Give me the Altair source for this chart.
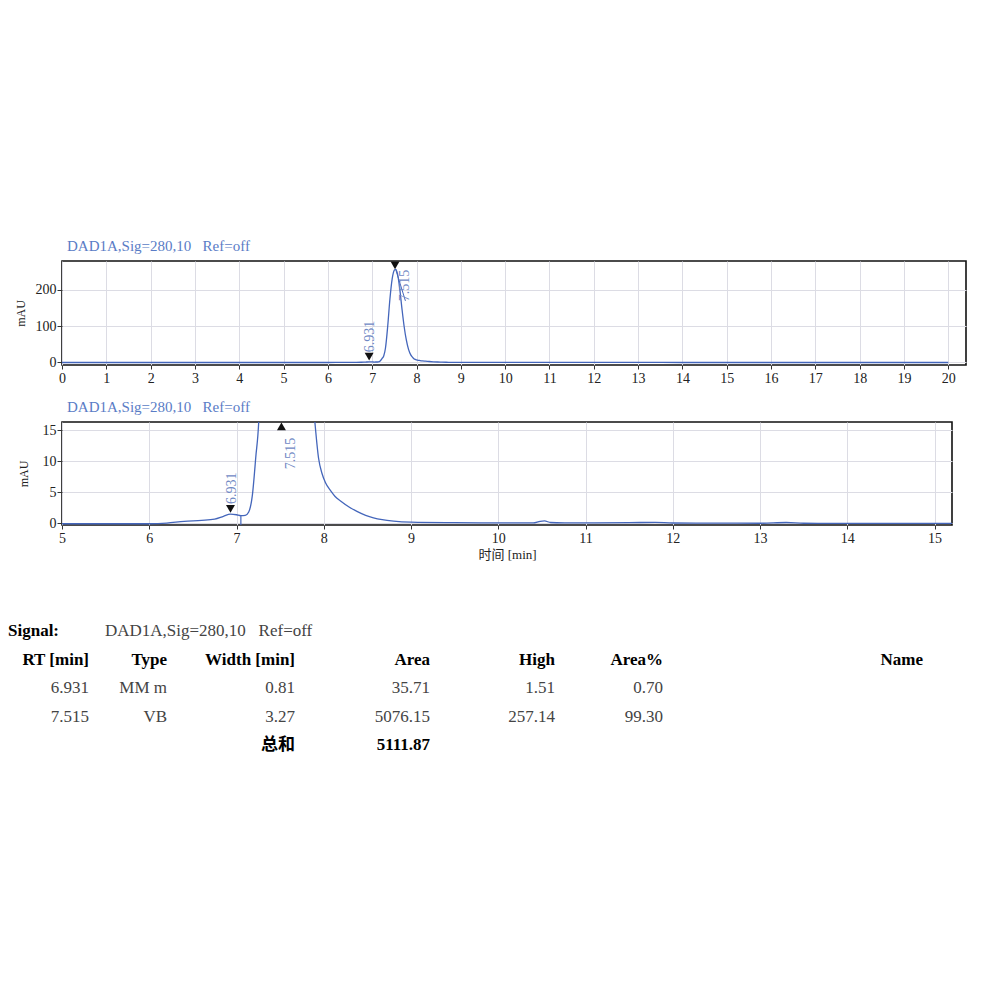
import altair as alt
import pandas as pd

# ---------------- data ----------------
time_min = [0.0, 1.0, 2.0, 3.0, 4.0, 5.0, 6.0, 6.2, 6.4, 6.6, 6.75, 6.85, 6.93,
            7.0, 7.05, 7.1, 7.14, 7.18, 7.22, 7.26, 7.30, 7.35, 7.40, 7.45, 7.50, 7.53,
            7.57, 7.62, 7.67, 7.72, 7.77, 7.82, 7.87, 7.90, 7.94, 7.98, 8.02, 8.08, 8.13,
            8.20, 8.29, 8.38, 8.48, 8.57, 8.67, 8.80, 9.0, 9.5, 10.0, 10.4, 10.48, 10.53, 10.6,
            10.8, 11.0, 11.5, 11.8, 12.0, 12.5, 13.0, 13.3, 13.5, 14.0,
            15.0, 16.0, 17.0, 18.0, 19.0, 20.0]
signal_mau = [-0.1, -0.1, -0.1, -0.1, -0.1, -0.1, -0.1, 0.0, 0.3, 0.45, 0.65, 1.1, 1.45,
              1.35, 1.2, 1.25, 1.8, 4.3, 10.5, 18, 40, 100, 175, 230, 255, 257.1,
              245, 205, 150, 100, 62, 36, 21, 16, 10.5, 8.0, 6.5, 5.2, 4.3,
              3.5, 2.6, 1.9, 1.26, 0.85, 0.55, 0.32, 0.16, 0.08, 0.05, 0.05, 0.3, 0.35, 0.1,
              0.05, 0.03, 0.08, 0.12, 0.02, 0.0, -0.02, 0.1, -0.02, -0.05,
              -0.05, -0.05, -0.05, -0.05, -0.05, -0.05]

peak_labels = ["6.931", "7.515"]

# top panel annotations (data coordinates)
top_marker_t = [6.931, 7.515]
top_marker_v = [16, 268]
top_marker_shape = ["triangle-down", "triangle-down"]
top_label_t = [6.94, 7.75]
top_label_v = [28, 169]
top_leader_t = [7.53]
top_leader_t2 = [7.75]
top_leader_v = [257]
top_leader_v2 = [170]

# bottom panel annotations
bot_marker_t = [6.931, 7.515]
bot_marker_v = [2.3, 15.6]
bot_marker_shape = ["triangle-down", "triangle-up"]
bot_label_t = [6.945, 7.62]
bot_label_v = [3.1, 8.7]
bot_drop_t = [7.05]
bot_drop_v = [-0.3]
bot_drop_v2 = [1.2]

signal_name = "DAD1A,Sig=280,10\u00a0\u00a0\u00a0Ref=off"

# table content
headers = ["RT [min]", "Type", "Width [min]", "Area", "High", "Area%", "Name"]
rt_vals = ["6.931", "7.515"]
type_vals = ["MM m", "VB"]
width_vals = ["0.81", "3.27"]
area_vals = ["35.71", "5076.15"]
high_vals = ["1.51", "257.14"]
pct_vals = ["0.70", "99.30"]
total_label = "总和"
total_area = "5111.87"

# ---------------- styles / layout ----------------
FONT = "Liberation Serif, Noto Sans CJK SC"
BLUE = "#4466bb"
TITLE_BLUE = "#5a7cc6"
LABEL_BLUE = "#7088c4"
GRID = "#dcdce4"

sig = pd.DataFrame({"t": time_min, "v": signal_mau})


def axis_x(values, title=None):
    kw = dict(values=values, format="d", grid=True, gridColor=GRID, gridWidth=1,
              domain=False, tickColor="#333", tickSize=4, labelFont=FONT, labelFontSize=14,
              labelColor="#222", labelPadding=2, labelFlush=False, labelOverlap=False)
    if title:
        kw.update(title=title, titleFont=FONT, titleFontSize=13, titleFontWeight="normal",
                  titleColor="#222", titlePadding=3)
    else:
        kw.update(title=None)
    return alt.Axis(**kw)


def axis_y(values, pad):
    return alt.Axis(values=values, format="d", grid=True, gridColor=GRID, gridWidth=1,
                    domain=False, tickColor="#333", tickSize=5, labelFont=FONT,
                    labelFontSize=14, labelColor="#222", labelPadding=1,
                    labelOverlap=False, title="mAU", titleFont=FONT,
                    titleFontSize=12, titleFontWeight="normal", titleColor="#222",
                    titlePadding=pad)


def panel(xdom, ydom, xvals, yvals, width, height, pad, xtitle,
          mk, lb, extra):
    xs = alt.Scale(domain=xdom, nice=False, zero=False)
    ys = alt.Scale(domain=ydom, nice=False, zero=False)
    ax = axis_x(xvals, xtitle)
    ay = axis_y(yvals, pad)
    line = alt.Chart(sig).mark_line(color=BLUE, strokeWidth=1.3, clip=True,
                                    interpolate="monotone").encode(
        x=alt.X("t:Q", scale=xs, axis=ax),
        y=alt.Y("v:Q", scale=ys, axis=ay),
    )
    markers = alt.Chart(mk).mark_point(filled=True, color="#111", opacity=1,
                                       size=80, clip=True).encode(
        x=alt.X("t:Q", scale=xs, axis=ax), y=alt.Y("v:Q", scale=ys, axis=ay),
        shape=alt.Shape("shape:N", scale=None),
    )
    labels = alt.Chart(lb).mark_text(angle=270, align="left", baseline="middle",
                                     font=FONT, fontSize=14, color=LABEL_BLUE).encode(
        x=alt.X("t:Q", scale=xs, axis=ax), y=alt.Y("v:Q", scale=ys, axis=ay),
        text="label:N",
    )
    layers = [line] + [e(xs, ys, ax, ay) for e in extra] + [markers, labels]
    return alt.layer(*layers).properties(
        width=width, height=height,
        view=alt.ViewBackground(stroke="#111", strokeWidth=1.6),
        title=alt.TitleParams(signal_name, anchor="start", frame="group", font=FONT,
                              fontSize=15, fontWeight="normal", color=TITLE_BLUE,
                              dx=5, offset=7),
    )


top_mk = pd.DataFrame({"t": top_marker_t, "v": top_marker_v, "shape": top_marker_shape})
top_lb = pd.DataFrame({"t": top_label_t, "v": top_label_v, "label": peak_labels})
top_ld = pd.DataFrame({"t": top_leader_t, "t2": top_leader_t2,
                       "v": top_leader_v, "v2": top_leader_v2})


def top_leader(xs, ys, ax, ay):
    return alt.Chart(top_ld).mark_rule(color=BLUE, strokeWidth=1).encode(
        x=alt.X("t:Q", scale=xs, axis=ax), x2="t2:Q",
        y=alt.Y("v:Q", scale=ys, axis=ay), y2="v2:Q")


bot_mk = pd.DataFrame({"t": bot_marker_t, "v": bot_marker_v, "shape": bot_marker_shape})
bot_lb = pd.DataFrame({"t": bot_label_t, "v": bot_label_v, "label": peak_labels})
bot_dr = pd.DataFrame({"t": bot_drop_t, "v": bot_drop_v, "v2": bot_drop_v2})


def bot_drop(xs, ys, ax, ay):
    return alt.Chart(bot_dr).mark_rule(color=BLUE, strokeWidth=1.2).encode(
        x=alt.X("t:Q", scale=xs, axis=ax), y=alt.Y("v:Q", scale=ys, axis=ay),
        y2="v2:Q")


top = panel([0, 20.4], [-7, 280], list(range(0, 21)), [0, 100, 200], 904, 104, 8, None,
            top_mk, top_lb, [top_leader])
bottom = panel([5, 15.2], [-0.3, 16.3], list(range(5, 16)), [0, 5, 10, 15], 890, 103, 12,
               "时间 [min]", bot_mk, bot_lb, [bot_drop])

# ---------------- results table ----------------
# column anchor positions in pixels, relative to the plot's left edge
COL_X = {"sig_lbl": -54, "sig_val": 43, "rt": 27, "type": 105, "width": 233,
         "area": 368, "high": 493, "pct": 601, "name": 861}
cols = ["rt", "type", "width", "area", "high", "pct", "name"]

rows = []
rows.append(("sig_lbl", 0, "Signal:", "bold", "left"))
rows.append(("sig_val", 0, signal_name, "normal", "left"))
for c, h in zip(cols, headers):
    rows.append((c, 1, h, "bold", "right"))
for i in range(2):
    for c, vals in zip(cols[:-1], [rt_vals, type_vals, width_vals, area_vals, high_vals, pct_vals]):
        rows.append((c, 2 + i, vals[i], "normal", "right"))
rows.append(("width", 4, total_label, "bold", "right"))
rows.append(("area", 4, total_area, "bold", "right"))

tab = pd.DataFrame(rows, columns=["colkey", "rowidx", "txt", "wt", "al"])
tab["cx"] = tab["colkey"].map(COL_X)
tab["ry"] = -tab["rowidx"]

TW, TH = 880, 200
txs = alt.Scale(domain=[0, TW], nice=False, zero=False)
tys = alt.Scale(domain=[-5.05, 1.97], nice=False, zero=False)

tlayers = []
for w in ["bold", "normal"]:
    for a in ["left", "right"]:
        sub = tab[(tab.wt == w) & (tab.al == a)][["cx", "ry", "txt"]]
        if len(sub) == 0:
            continue
        tlayers.append(
            alt.Chart(sub).mark_text(align=a, baseline="middle", font=FONT,
                                     fontSize=17, fontWeight=w,
                                     color="#444" if w == "normal" else "#000").encode(
                x=alt.X("cx:Q", scale=txs, axis=None),
                y=alt.Y("ry:Q", scale=tys, axis=None),
                text=alt.Text("txt:N"),
            )
        )
table = alt.layer(*tlayers).properties(width=TW, height=TH)

chart = alt.vconcat(top, bottom, table, spacing=13).properties(
    padding={"left": 0, "top": 230, "right": 5, "bottom": 5},
    background="white",
).configure_view(strokeWidth=0)

chart.save("out.html", embed_options={"renderer": "svg", "actions": False})
